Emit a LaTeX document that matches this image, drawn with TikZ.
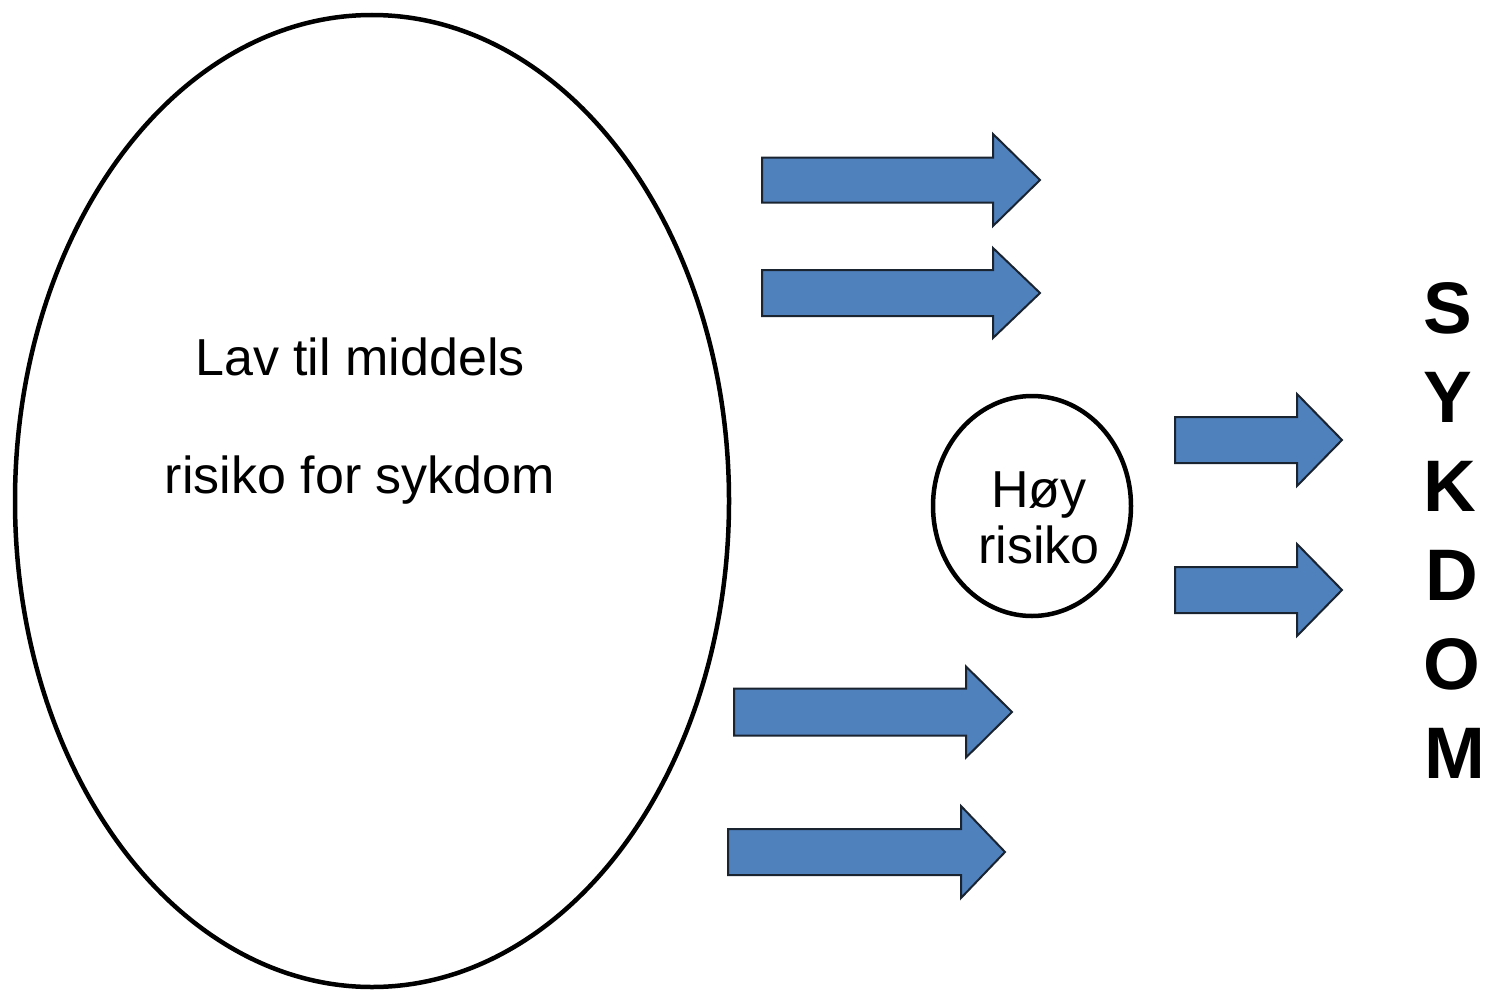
\documentclass[tikz,border=0pt]{standalone}
\usepackage{fontspec}
\setmainfont{Liberation Sans}
\usetikzlibrary{shapes.geometric}
\definecolor{arrowblue}{HTML}{4F81BD}
\definecolor{arrowline}{HTML}{1A2330}
\tikzset{
  blob/.style={ellipse, draw=black, line width=4.5pt, inner sep=0pt},
  blockarrow/.style={fill=arrowblue, draw=arrowline, line width=2pt, line join=miter},
  label/.style={font=\fontsize{52}{60}\selectfont, anchor=base},
  letter/.style={font=\fontsize{73}{80}\selectfont\bfseries, anchor=base},
}
% #1 start x, #2 shaft end x, #3 tip x, #4 centre y, #5 shaft half height, #6 head half height
\newcommand\bluearrow[6]{%
  \draw[blockarrow] (#1,#4-#5) -- (#2,#4-#5) -- (#2,#4-#6) -- (#3,#4)
    -- (#2,#4+#6) -- (#2,#4+#5) -- (#1,#4+#5) -- cycle;}
\begin{document}
\begin{tikzpicture}[x=1pt,y=-1pt]
\useasboundingbox (0,0) rectangle (1485,990);
\node[blob, minimum width=714pt, minimum height=972pt] (low) at (372,501) {};
\node[label] (lowA) at (360,375) {Lav til middels};
\node[label] (lowB) at (360,493) {risiko for sykdom};
\node[blob, minimum width=198pt, minimum height=220pt] (high) at (1032,506) {};
\node[label] (highA) at (1039,507) {Høy};
\node[label] (highB) at (1039,563) {risiko};
\bluearrow{762}{993}{1040}{180}{22.5}{46}
\bluearrow{762}{993}{1040}{293}{23}{45}
\bluearrow{1175}{1297}{1342}{440}{23}{46}
\bluearrow{1175}{1297}{1342}{590}{23}{46}
\bluearrow{734}{966}{1012}{712}{23.5}{45.5}
\bluearrow{728}{961}{1005}{852}{23}{46}
\node[letter] (s1) at (1448,333) {S};
\node[letter] (s2) at (1448,422) {Y};
\node[letter] (s3) at (1450,511) {K};
\node[letter] (s4) at (1452,600) {D};
\node[letter] (s5) at (1452,689) {O};
\node[letter] (s6) at (1455,778) {M};
\end{tikzpicture}
\end{document}
